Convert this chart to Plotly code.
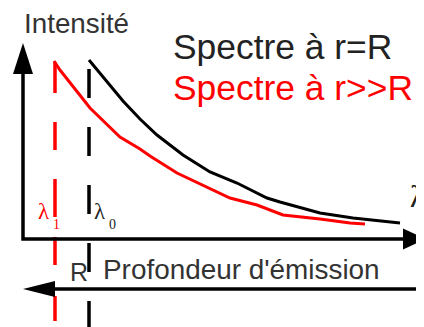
import plotly.graph_objects as go

# ---- data (arbitrary units: x = wavelength position, y = intensity) ----
lam_rR = [66, 84, 100, 117, 134, 160, 187, 214, 244, 257, 297, 330, 377]
int_rR = [179, 157, 138, 120, 104, 84, 67, 56, 41, 37, 26, 21, 16]
lam_rggR = [31, 37, 67, 84, 97, 117, 127, 154, 180, 207, 234, 260, 297, 327, 342]
int_rggR = [178, 169, 131, 114, 102, 90, 83, 66, 54, 41, 34, 24, 20, 16, 15]
lambda_marks = [32, 66]            # λ1 , λ0
lambda_tops = [177, 170]
series_names = ["Spectre à r=R", "Spectre à r>>R"]
series_colors = ["#222222", "#ff0000"]

PAGE_W, PAGE_H = 424, 327
BODY = 8                      # default page margin of the html body
W, H = PAGE_W - BODY, PAGE_H - BODY
OX, OY = 23, 239              # page-pixel position of the origin

fig = go.Figure()

# dashed wavelength markers
fig.add_trace(go.Scatter(x=[lambda_marks[0]] * 2, y=[lambda_tops[0], -90], mode="lines",
                         line=dict(color="#ff0000", width=3.5,
                                   dash="31px,29px,28px,29px,38px,20px,28px,31px,25px,40px"),
                         hoverinfo="skip", showlegend=False))
fig.add_trace(go.Scatter(x=[lambda_marks[1]] * 2, y=[lambda_tops[1], -90], mode="lines",
                         line=dict(color="#000000", width=3.5, dash="29px,29px"),
                         hoverinfo="skip", showlegend=False))

# spectra
fig.add_trace(go.Scatter(x=lam_rR, y=int_rR, mode="lines", name=series_names[0],
                         line=dict(color="#000000", width=3), showlegend=False))
fig.add_trace(go.Scatter(x=lam_rggR, y=int_rggR, mode="lines", name=series_names[1],
                         line=dict(color=series_colors[1], width=3), showlegend=False))

# axis-end label (partly outside the picture, as in the reference)
fig.add_trace(go.Scatter(x=[410 - OX], y=[OY - 199], mode="text", text=["λ"],
                         textposition="middle right", cliponaxis=False,
                         textfont=dict(family="Liberation Serif, serif", size=31, color="#222222"),
                         hoverinfo="skip", showlegend=False))

shapes = [
    # axes
    dict(type="path", path="M 0,166 L 0,0 L 381,0", line=dict(color="black", width=3.5)),
    dict(type="path", path="M -10,165 L 10,165 L 0,196 Z", fillcolor="black", line=dict(width=0)),
    dict(type="path", path="M 380,10.5 L 380,-10.5 L 403,0 Z", fillcolor="black", line=dict(width=0)),
    # depth arrow
    dict(type="line", x0=30, y0=-50, x1=410, y1=-50, line=dict(color="black", width=3.5)),
    dict(type="path", path="M 0,-50 L 32,-42 L 32,-58 Z", fillcolor="black", line=dict(width=0)),
    # small dot top right
    dict(type="circle", x0=394.5, x1=397.5, y0=211.5, y1=214.5, fillcolor="#333", line=dict(width=0)),
]

sans = "Liberation Sans, Arial, sans-serif"
serif = "Liberation Serif, Times New Roman, serif"


def ann(text, px, py, size, color="#222222", family=sans, xanchor="center"):
    # page pixels -> paper coordinates
    x = (px - BODY) / W
    y = 1 - (py - BODY) / H
    return dict(text=text, x=x, y=y, xref="paper", yref="paper", showarrow=False,
                xanchor=xanchor, yanchor="middle",
                font=dict(family=family, size=size, color=color))


annotations = [
    ann("Intensité", 76.5, 23.5, 27.8, color="#333333"),
    ann(series_names[0], 171, 47, 35.4, color=series_colors[0], xanchor="left"),
    ann(series_names[1], 171, 88, 35.4, color=series_colors[1], xanchor="left"),
    ann("R", 78.5, 271.5, 25, color="#333333"),
    ann("Profondeur d'émission", 241.5, 269, 27.9, color="#333333"),
    ann("λ", 44, 211.5, 23, color="#ff0000", family=serif),
    ann("1", 56, 224.5, 14, color="#ff0000", family=serif),
    ann("λ", 100, 211.5, 23, color="#222222", family=serif),
    ann("0", 112.5, 224.5, 14, color="#222222", family=serif),
]

fig.update_layout(
    width=W, height=H, margin=dict(l=0, r=0, t=0, b=0),
    paper_bgcolor="white", plot_bgcolor="white",
    xaxis=dict(range=[BODY - OX, PAGE_W - OX], visible=False, fixedrange=True),
    yaxis=dict(range=[OY - PAGE_H, OY - BODY], visible=False, fixedrange=True),
    shapes=shapes, annotations=annotations, showlegend=False,
)

fig.write_html("out.html")
